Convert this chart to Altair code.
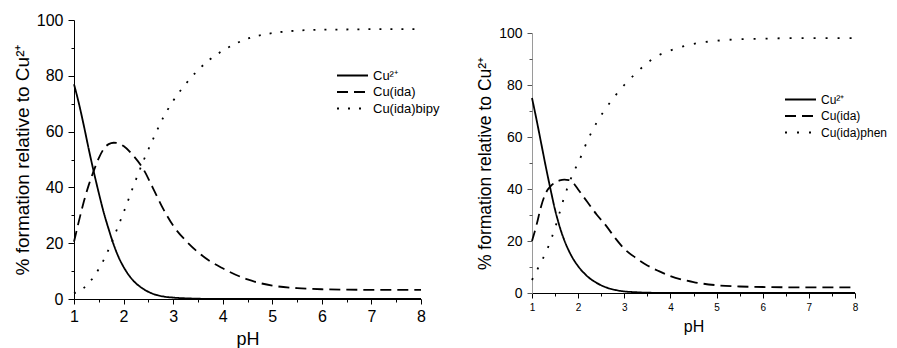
import altair as alt
import pandas as pd

ph = [1.0, 1.1, 1.2, 1.3, 1.4, 1.5, 1.6, 1.7, 1.8, 1.9, 2.0,
      2.2, 2.4, 2.6, 2.8, 3.0, 3.25, 3.5, 3.75, 4.0,
      4.5, 5.0, 5.5, 6.0, 6.5, 7.0, 7.5, 8.0]

# left panel (bipy system)
left_names = ["Cu²⁺", "Cu(ida)", "Cu(ida)bipy"]
left_cu = [77, 70, 62, 53.5, 45.5, 38, 31, 25, 19.5, 15, 11.5,
           6.5, 3.6, 1.8, 0.9, 0.5, 0.25, 0.1, 0.05, 0.02,
           0, 0, 0, 0, 0, 0, 0, 0]
left_ida = [20.5, 28, 35, 41, 46, 50.5, 53.8, 55.5, 56, 55.8, 54.8,
            51.3, 46.5, 39.5, 32.3, 26.3, 21, 16.8, 13.5, 11,
            7, 4.8, 3.9, 3.5, 3.35, 3.3, 3.3, 3.3]
left_bipy = [2, 2.8, 4, 5.8, 8, 10.8, 14, 17.8, 22, 26.5, 31,
             40.5, 49.5, 57.5, 65, 71, 77, 82, 86, 89,
             93.3, 95.3, 96.2, 96.5, 96.6, 96.7, 96.7, 96.7]

# right panel (phen system)
right_names = ["Cu²⁺", "Cu(ida)", "Cu(ida)phen"]
right_cu = [75, 66.5, 57.5, 48.5, 40, 32, 25.5, 20.3, 16.2, 12.9, 10.3,
            6.4, 3.9, 2.2, 1.2, 0.6, 0.3, 0.12, 0.05, 0.02,
            0, 0, 0, 0, 0, 0, 0, 0]
right_ida = [20, 26.3, 33.5, 38.5, 41, 42.5, 43.3, 43.6, 43.4, 42.2, 39.8,
             35, 30.2, 26, 21.2, 17, 13.5, 10.6, 8.4, 6.5,
             4.2, 3.0, 2.5, 2.3, 2.2, 2.2, 2.2, 2.2]
right_phen = [5, 8.5, 12, 15.5, 20, 25, 31, 37, 42, 46.5, 50,
              58.5, 65.5, 71, 75.8, 80, 84.5, 88.5, 91.5, 93.3,
              95.8, 97, 97.6, 97.8, 98, 98, 98, 98]

x_major = [1, 2, 3, 4, 5, 6, 7, 8]
x_minor = [1.5, 2.5, 3.5, 4.5, 5.5, 6.5, 7.5]
y_major = [0, 20, 40, 60, 80, 100]
y_minor = [10, 30, 50, 70, 90]

FONT = "Liberation Sans"
Y_TITLE = "% formation relative to Cu²⁺"


def make_df(names, series):
    rows = []
    for name, vals in zip(names, series):
        for p, v in zip(ph, vals):
            rows.append({"pH": p, "value": v, "species": name})
    return pd.DataFrame(rows)


def panel(names, series, w, h, dashes, tick_font, xtick_font, title_font,
          xtitle_font, leg_x, leg_y, leg_font, ydomain_color, ytick_color,
          ytick, ytitle_pad, xlabel_pad, xtitle_pad):
    df = make_df(names, series)
    xs = alt.Scale(domain=[1, 8], nice=False, zero=False)
    ys = alt.Scale(domain=[0, 100], nice=False)
    base = alt.Chart(df)
    lines = base.mark_line(
        color="black", strokeWidth=1.8, interpolate="monotone"
    ).encode(
        x=alt.X("pH:Q", scale=xs,
                axis=alt.Axis(
                    values=x_major, title="pH", grid=False, format="d",
                    orient="bottom", tickSize=5,
                    labelFontSize=xtick_font, labelFont=FONT, labelColor="black",
                    titleFontSize=xtitle_font, titleFont=FONT, titleFontWeight="normal",
                    titleColor="black", domainColor="black", tickColor="black",
                    labelPadding=xlabel_pad, titlePadding=xtitle_pad, labelFlush=False)),
        y=alt.Y("value:Q", scale=ys,
                axis=alt.Axis(
                    values=y_major, title=Y_TITLE, grid=False, format="d",
                    orient="left", tickSize=ytick,
                    labelFontSize=tick_font, labelFont=FONT, labelColor="black",
                    titleFontSize=title_font, titleFont=FONT, titleFontWeight="normal",
                    titleColor="black", domainColor=ydomain_color, tickColor=ytick_color,
                    labelPadding=5, titlePadding=ytitle_pad, labelFlush=False)),
        strokeDash=alt.StrokeDash(
            "species:N",
            scale=alt.Scale(domain=names, range=dashes),
            legend=alt.Legend(
                title=None, orient="none", legendX=leg_x, legendY=leg_y,
                symbolType="stroke", symbolSize=961, symbolStrokeWidth=2,
                symbolStrokeColor="black", labelFont=FONT,
                labelFontSize=leg_font, labelColor="black", labelOffset=4,
                clipHeight=15, rowPadding=1.5, padding=0)),
    )
    minor = base.mark_line(opacity=0).encode(
        x=alt.X("pH:Q", scale=xs,
                axis=alt.Axis(values=x_minor, title=None, labels=False,
                              domain=False, grid=False, orient="bottom",
                              tickSize=3, tickColor="black")),
        y=alt.Y("value:Q", scale=ys,
                axis=alt.Axis(values=y_minor, title=None, labels=False,
                              domain=False, grid=False, orient="left",
                              tickSize=3, tickColor=ytick_color)),
        detail="species:N",
    )
    return alt.layer(lines, minor).resolve_axis(
        x="independent", y="independent").properties(width=w, height=h)


left = panel(left_names, [left_cu, left_ida, left_bipy], 347, 279,
             [[1, 0], [11, 6], [2, 9]], 16, 16, 19, 18,
             262, 48, 13, "black", "black", 6, 4, 4, 6)
right = panel(right_names, [right_cu, right_ida, right_phen], 323, 260,
              [[1, 0], [11, 6], [2, 10]], 14, 10, 17.5, 16,
              252, 72, 12, "#9a9a9a", "#555555", 5, 4, 4, 6)

# empty spacer that lowers the right panel relative to the left one
spacer = alt.Chart(pd.DataFrame({"s": [0]})).mark_point(opacity=0).encode(
    x=alt.value(0), y=alt.value(0)
).properties(width=323, height=6, view=alt.ViewConfig(stroke=None))

right_col = alt.vconcat(spacer, right, spacing=0)

chart = alt.hconcat(left, right_col, spacing=36).resolve_scale(
    strokeDash="independent"
).resolve_legend(strokeDash="independent").properties(
    padding={"left": 5, "top": 4, "right": 0, "bottom": 0}
).configure(background="white").configure_view(stroke=None)

chart.save("out.html", embed_options={"renderer": "svg", "actions": False})
